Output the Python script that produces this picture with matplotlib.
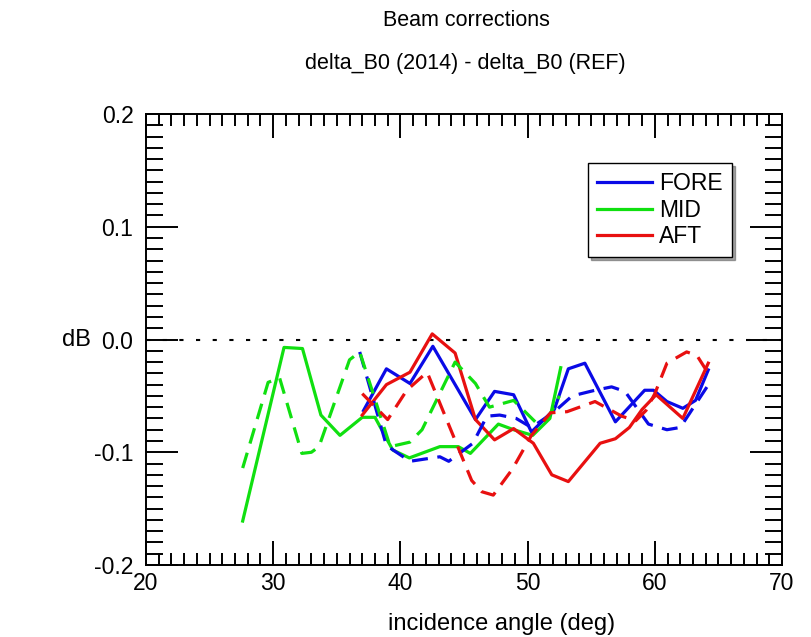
import numpy as np
import matplotlib.pyplot as plt
from matplotlib.ticker import MultipleLocator

plt.rcParams['font.family'] = ['Liberation Sans', 'DejaVu Sans']

# FORE
fore_x = [37.1, 38.9, 40.75, 42.55, 45.9, 47.4, 48.9, 50.3, 52.1, 53.2, 54.5, 56.9, 59.2, 59.9, 60.95, 62.2, 63.2, 64.2]
fore_y = [-0.063, -0.026, -0.039, -0.006, -0.071, -0.046, -0.049, -0.082, -0.062, -0.026, -0.021, -0.073, -0.045, -0.045, -0.055, -0.061, -0.054, -0.027]
fore_ref_x = [36.8, 38.9, 40.75, 43.1, 43.8, 45.7, 46.8, 47.8, 49.1, 50.3, 52.0, 53.5, 55.3, 56.6, 57.65, 59.5, 60.95, 62.0, 64.1]
fore_ref_y = [-0.011, -0.094, -0.108, -0.104, -0.108, -0.092, -0.068, -0.067, -0.070, -0.078, -0.065, -0.050, -0.045, -0.042, -0.046, -0.075, -0.080, -0.078, -0.042]

# MID
mid_x = [27.6, 30.85, 32.3, 33.75, 35.25, 37.0, 38.0, 39.4, 40.7, 43.1, 44.55, 45.5, 47.7, 48.9, 50.4, 51.75, 52.6]
mid_y = [-0.161, -0.007, -0.008, -0.067, -0.085, -0.069, -0.069, -0.098, -0.105, -0.095, -0.095, -0.101, -0.075, -0.080, -0.085, -0.070, -0.025]
mid_ref_x = [27.6, 29.6, 30.5, 32.25, 33.0, 33.6, 36.0, 36.8, 39.2, 40.75, 41.7, 44.3, 45.9, 47.0, 48.9, 50.6, 51.6, 52.5]
mid_ref_y = [-0.114, -0.038, -0.034, -0.101, -0.100, -0.095, -0.018, -0.011, -0.095, -0.091, -0.080, -0.020, -0.039, -0.060, -0.054, -0.073, -0.070, -0.050]

# AFT
aft_x = [37.0, 38.9, 40.75, 42.5, 44.3, 45.9, 47.4, 48.9, 50.45, 51.9, 53.2, 55.7, 56.9, 58.0, 59.0, 60.1, 62.2, 64.2]
aft_y = [-0.067, -0.040, -0.029, 0.005, -0.012, -0.071, -0.089, -0.079, -0.092, -0.120, -0.126, -0.092, -0.088, -0.078, -0.062, -0.049, -0.070, -0.021]
aft_ref_x = [37.0, 39.0, 40.5, 42.1, 45.6, 46.4, 47.3, 48.8, 50.3, 51.8, 53.1, 55.3, 57.4, 58.5, 59.3, 60.0, 60.95, 62.5, 63.3, 64.2]
aft_ref_y = [-0.048, -0.071, -0.045, -0.029, -0.125, -0.135, -0.138, -0.115, -0.085, -0.065, -0.064, -0.055, -0.068, -0.072, -0.063, -0.048, -0.021, -0.011, -0.014, -0.030]

blue = '#0a0ae6'
green = '#10e010'
red = '#e81010'
lw = 2.3
dash = (5, 3)

fig = plt.figure(figsize=(8.12, 6.37), dpi=100)
ax = fig.add_axes([0.1798, 0.1130, 0.7833, 0.708])

# zero line
ax.plot([20, 70], [0, 0], color='black', lw=1.5, dashes=(2, 6))

ax.plot(fore_x, fore_y, color=blue, lw=lw, label='FORE')
ax.plot(mid_x, mid_y, color=green, lw=lw, label='MID')
ax.plot(aft_x, aft_y, color=red, lw=lw, label='AFT')
ax.plot(fore_ref_x, fore_ref_y, color=blue, lw=lw, dashes=dash)
ax.plot(mid_ref_x, mid_ref_y, color=green, lw=lw, dashes=dash)
ax.plot(aft_ref_x, aft_ref_y, color=red, lw=lw, dashes=dash)

ax.set_xlim(20, 70)
ax.set_ylim(-0.2, 0.2)
ax.xaxis.set_major_locator(MultipleLocator(10))
ax.xaxis.set_minor_locator(MultipleLocator(1))
ax.yaxis.set_minor_locator(MultipleLocator(0.01))
ax.set_yticks([-0.2, -0.1, 0.0, 0.1, 0.2])
ax.set_yticklabels(['-0.2', '-0.1', '0.0', '0.1', '0.2'])

ax.tick_params(axis='both', which='both', direction='in', top=True, right=True, width=1.4, labelsize=16.5)
ax.tick_params(axis='x', which='major', length=17, pad=5)
ax.tick_params(axis='x', which='minor', length=8.5)
ax.tick_params(axis='y', which='major', length=23, pad=9)
ax.tick_params(axis='y', which='minor', length=12)
for s in ax.spines.values():
    s.set_linewidth(1.4)

leg = ax.legend(loc='upper left', bbox_to_anchor=(0.695, 0.891), borderaxespad=0,
                fontsize=16.5, frameon=True, fancybox=False, shadow=True,
                edgecolor='black', framealpha=1, handlelength=2.4,
                handletextpad=0.3, labelspacing=0.15, borderpad=0.4)
leg.get_frame().set_linewidth(1.0)

fig.text(0.574, 1 - 20 / 637, 'Beam corrections', ha='center', va='center', fontsize=15.5)
fig.text(0.573, 1 - 64 / 637, 'delta_B0 (2014) - delta_B0 (REF)', ha='center', va='center', fontsize=15.5)
fig.text(76 / 812, 1 - 340 / 637, 'dB', ha='center', va='center', fontsize=17)
fig.text(502 / 812, 1 - 624 / 637, 'incidence angle (deg)', ha='center', va='center', fontsize=17)

fig.savefig('out.png', dpi=100)
